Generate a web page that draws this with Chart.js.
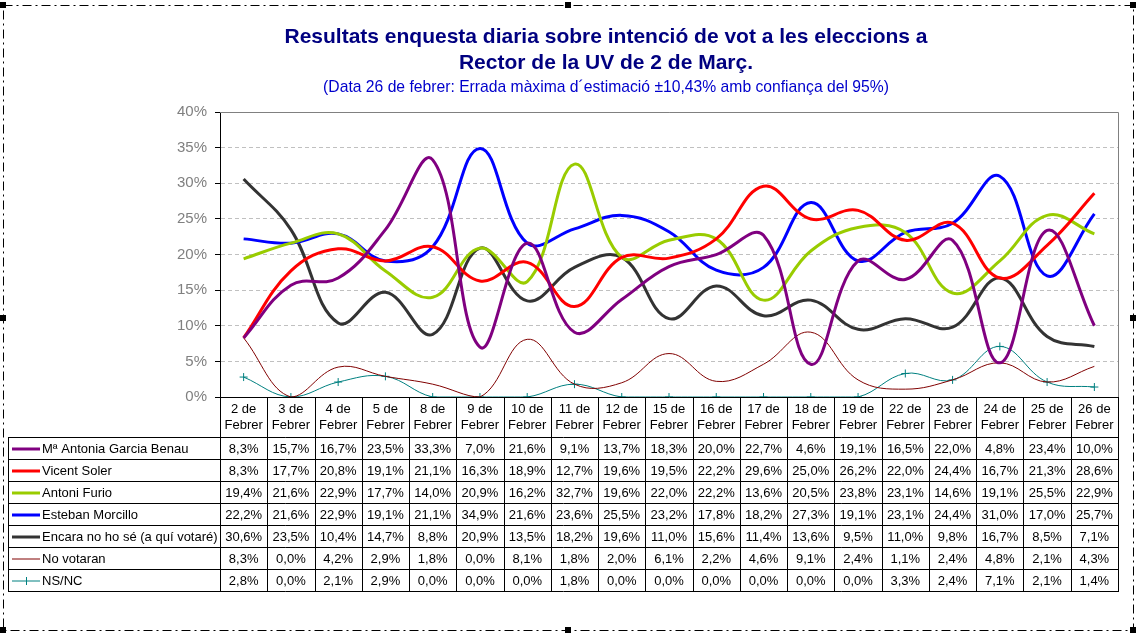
<!DOCTYPE html>
<html lang="ca">
<head>
    <meta charset="UTF-8">
    <title>Resultats enquesta diaria</title>
    <script src="https://cdn.jsdelivr.net/npm/chart.js"></script>
    <style>
        body { margin: 0; background: #fff; }
        canvas { display: block; }
    </style>
</head>
<body>
    <canvas id="voteChart" width="1141" height="639"></canvas>

    <script>
        // dies de l'enquesta (febrer)
        const days = [2, 3, 4, 5, 8, 9, 10, 11, 12, 15, 16, 17, 18, 19, 22, 23, 24, 25, 26];

        const names = [
            'Mª Antonia Garcia Benau',
            'Vicent Soler',
            'Antoni Furio',
            'Esteban Morcillo',
            'Encara no ho sé (a quí votaré)',
            'No votaran',
            'NS/NC'
        ];

        const garcia   = [8.3, 15.7, 16.7, 23.5, 33.3, 7.0, 21.6, 9.1, 13.7, 18.3, 20.0, 22.7, 4.6, 19.1, 16.5, 22.0, 4.8, 23.4, 10.0];
        const soler    = [8.3, 17.7, 20.8, 19.1, 21.1, 16.3, 18.9, 12.7, 19.6, 19.5, 22.2, 29.6, 25.0, 26.2, 22.0, 24.4, 16.7, 21.3, 28.6];
        const furio    = [19.4, 21.6, 22.9, 17.7, 14.0, 20.9, 16.2, 32.7, 19.6, 22.0, 22.2, 13.6, 20.5, 23.8, 23.1, 14.6, 19.1, 25.5, 22.9];
        const morcillo = [22.2, 21.6, 22.9, 19.1, 21.1, 34.9, 21.6, 23.6, 25.5, 23.2, 17.8, 18.2, 27.3, 19.1, 23.1, 24.4, 31.0, 17.0, 25.7];
        const encara   = [30.6, 23.5, 10.4, 14.7, 8.8, 20.9, 13.5, 18.2, 19.6, 11.0, 15.6, 11.4, 13.6, 9.5, 11.0, 9.8, 16.7, 8.5, 7.1];
        const noVotan  = [8.3, 0.0, 4.2, 2.9, 1.8, 0.0, 8.1, 1.8, 2.0, 6.1, 2.2, 4.6, 9.1, 2.4, 1.1, 2.4, 4.8, 2.1, 4.3];
        const nsnc     = [2.8, 0.0, 2.1, 2.9, 0.0, 0.0, 0.0, 1.8, 0.0, 0.0, 0.0, 0.0, 0.0, 0.0, 3.3, 2.4, 7.1, 2.1, 1.4];

        const yTicks = [0, 5, 10, 15, 20, 25, 30, 35, 40];

        const FONT = '"Liberation Sans", Arial, sans-serif';
        const fmt = v => v.toFixed(1).replace('.', ',') + '%';

        function line(label, data, color, width, marker) {
            return {
                label: label,
                data: data,
                borderColor: color,
                backgroundColor: color,
                borderWidth: width,
                tension: 0.4,
                pointRadius: marker ? 4 : 0,
                pointStyle: marker ? 'cross' : 'circle',
                pointBorderWidth: 1,
                fill: false
            };
        }

        // fons blanc + marc de selecció (estil Excel)
        const framePlugin = {
            id: 'frame',
            beforeDraw(chart) {
                const ctx = chart.ctx;
                ctx.save();
                ctx.fillStyle = '#fff';
                ctx.fillRect(0, 0, chart.width, chart.height);
                ctx.restore();
            },
            afterDraw(chart) {
                const ctx = chart.ctx;
                ctx.save();
                ctx.strokeStyle = '#000';
                ctx.lineWidth = 1;
                ctx.setLineDash([9, 4, 2, 4]);
                ctx.strokeRect(3.5, 5.5, 1130, 625);
                ctx.setLineDash([]);
                ctx.fillStyle = '#000';
                const handles = [[3, 5], [568, 5], [1133, 5], [3, 318], [1133, 318], [3, 630], [568, 630], [1133, 630]];
                handles.forEach(h => ctx.fillRect(h[0] - 3, h[1] - 3, 6, 6));
                ctx.restore();
            }
        };

        // vora de l'àrea del gràfic i taula de dades
        const tablePlugin = {
            id: 'dataTable',
            afterDatasetsDraw(chart) {
                const { ctx, chartArea: a } = chart;
                ctx.save();
                ctx.strokeStyle = '#808080';
                ctx.lineWidth = 1;
                ctx.beginPath();
                ctx.moveTo(a.left, Math.round(a.top) + 0.5);
                ctx.lineTo(Math.round(a.right) + 0.5, Math.round(a.top) + 0.5);
                ctx.lineTo(Math.round(a.right) + 0.5, a.bottom);
                ctx.stroke();
                ctx.restore();
            },
            afterDraw(chart) {
                const { ctx, chartArea: a, scales: { x } } = chart;
                const n = chart.data.labels.length;
                const colW = (a.right - a.left) / n;
                const top = Math.round(a.bottom);
                const headBottom = top + 40;
                const rowH = 22;
                const sets = chart.data.datasets;
                const bottom = headBottom + rowH * sets.length;
                const left = 8;

                ctx.save();
                ctx.fillStyle = '#fff';
                ctx.fillRect(a.left, top + 1, a.right - a.left, bottom - top);
                ctx.fillRect(left, headBottom, a.left - left, bottom - headBottom);

                ctx.strokeStyle = '#000';
                ctx.lineWidth = 1;
                ctx.beginPath();
                // verticals
                for (let i = 0; i <= n; i++) {
                    const px = Math.round(x.getPixelForValue(i) - colW / 2) + 0.5;
                    ctx.moveTo(px, top);
                    ctx.lineTo(px, bottom);
                }
                ctx.moveTo(left + 0.5, headBottom);
                ctx.lineTo(left + 0.5, bottom);
                // horitzontals
                for (let r = 0; r <= sets.length; r++) {
                    const py = headBottom + r * rowH + 0.5;
                    ctx.moveTo(left, py);
                    ctx.lineTo(Math.round(a.right) + 1, py);
                }
                ctx.stroke();

                ctx.fillStyle = '#000';
                ctx.font = '13px ' + FONT;
                ctx.textAlign = 'center';
                ctx.textBaseline = 'middle';
                chart.data.labels.forEach((lab, i) => {
                    const cx = x.getPixelForValue(i);
                    ctx.fillText(lab[0], cx, top + 12);
                    ctx.fillText(lab[1], cx, top + 28);
                });

                sets.forEach((ds, r) => {
                    const cy = headBottom + r * rowH + rowH / 2 + 1;
                    ds.data.forEach((v, i) => {
                        ctx.fillText(fmt(v), x.getPixelForValue(i), cy);
                    });
                    // clau de la llegenda
                    ctx.strokeStyle = ds.borderColor;
                    ctx.lineWidth = ds.borderWidth;
                    ctx.beginPath();
                    ctx.moveTo(12, cy);
                    ctx.lineTo(40, cy);
                    ctx.stroke();
                    if (ds.pointRadius > 0) {
                        ctx.lineWidth = 1;
                        ctx.beginPath();
                        ctx.moveTo(26.5, cy - 4);
                        ctx.lineTo(26.5, cy + 4);
                        ctx.stroke();
                    }
                    ctx.textAlign = 'left';
                    ctx.fillText(ds.label, 42, cy);
                    ctx.textAlign = 'center';
                });
                ctx.restore();
            }
        };

        const ctx = document.getElementById('voteChart').getContext('2d');
        new Chart(ctx, {
            type: 'line',
            data: {
                labels: days.map(d => [d + ' de', 'Febrer']),
                datasets: [
                    line(names[0], garcia, '#800080', 3),
                    line(names[1], soler, '#FF0000', 3),
                    line(names[2], furio, '#99CC00', 3),
                    line(names[3], morcillo, '#0000FF', 3),
                    line(names[4], encara, '#333333', 3),
                    line(names[5], noVotan, '#800000', 1),
                    line(names[6], nsnc, '#008080', 1, true)
                ]
            },
            options: {
                responsive: false,
                animation: false,
                layout: { padding: { left: 94, right: 23, top: 0, bottom: 242 } },
                scales: {
                    x: {
                        offset: true,
                        ticks: { display: false },
                        grid: { display: false, drawTicks: false },
                        border: { color: '#000', width: 1 },
                        afterFit: s => { s.height = 0; }
                    },
                    y: {
                        min: 0,
                        max: 40,
                        afterBuildTicks: s => { s.ticks = yTicks.map(v => ({ value: v })); },
                        ticks: {
                            callback: v => v + '%',
                            color: '#808080',
                            font: { family: FONT, size: 15 },
                            padding: 8
                        },
                        grid: { color: '#c0c0c0', tickColor: '#000', tickLength: 5, tickBorderDash: [] },
                        border: { color: '#000', width: 1, dash: [4, 3] },
                        afterFit: s => { s.width = 126; }
                    }
                },
                plugins: {
                    legend: { display: false },
                    tooltip: { enabled: false },
                    title: {
                        display: true,
                        text: ['Resultats enquesta diaria sobre intenció de vot a les eleccions a', 'Rector de la UV de 2 de Març.'],
                        color: '#000080',
                        font: { family: FONT, size: 21, weight: 'bold', lineHeight: 1.24 },
                        padding: { top: 24, bottom: 0 }
                    },
                    subtitle: {
                        display: true,
                        text: '(Data 26 de febrer: Errada màxima d´estimació ±10,43% amb confiança del 95%)',
                        color: '#0000CC',
                        font: { family: FONT, size: 15.7, lineHeight: 1.53 },
                        padding: { top: 0, bottom: 12 }
                    }
                }
            },
            plugins: [framePlugin, tablePlugin]
        });
    </script>
</body>
</html>
